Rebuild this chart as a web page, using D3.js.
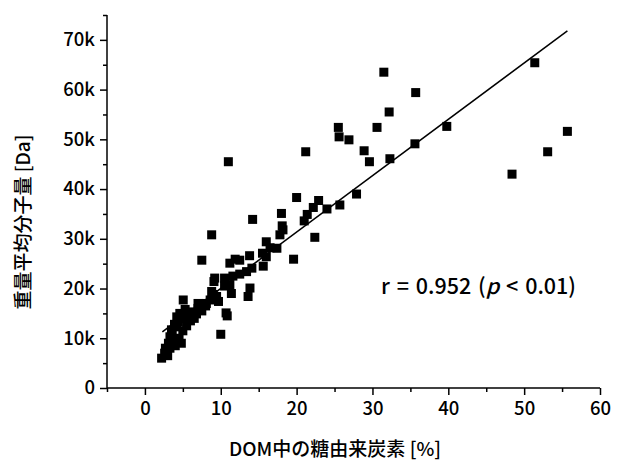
<!DOCTYPE html>
<html><head><meta charset="utf-8">
<script src="https://cdn.jsdelivr.net/npm/d3@7"></script>
<style>body{margin:0;background:#fff}svg{display:block}text{font-family:"Noto Sans CJK JP","Noto Sans",sans-serif;fill:#000}</style>
</head><body><svg id="c" width="636" height="465"></svg>
<script>
// DOM中の糖由来炭素 [%]
const xVals = [31.5,35.7,32.2,25.5,25.6,26.9,30.6,21.2,28.9,29.6,32.3,35.6,39.8,51.4,55.7,53.1,48.4,
  20.0,22.9,22.2,24.0,25.7,27.9,21.4,18.0,21.0,11.0,14.2,18.1,18.2,17.8,8.8,22.4,16.0,16.5,17.4,15.5,16.0,13.8,19.6,
  11.9,12.5,11.2,7.5,15.6,14.1,13.4,12.5,11.6,9.2,10.5,9.1,13.85,13.6,5.05,7.0,8.8,9.45,11.4,10.7,10.85,10.0,10.5,11.2,
  8.6,9.7,2.2,2.6,3.3,3.1,3.7,3.3,3.5,4.2,4.4,4.2,5.05,5.7,6.4,7.0,3.0,4.0,4.5,5.0,5.5,6.0,4.8,6.5,7.5,8.0,8.1,9.0,
  2.7,3.6,3.9,4.6,5.3,6.8];
// 重量平均分子量 [k Da]
const yVals = [63.5,59.4,55.5,52.4,50.5,49.9,52.4,47.5,47.7,45.5,46.1,49.1,52.6,65.4,51.6,47.5,43.0,
  38.3,37.7,36.3,36.0,36.8,39.0,34.9,35.1,33.6,45.5,33.9,32.6,31.8,30.8,30.8,30.3,29.4,28.2,28.1,27.1,26.4,26.6,25.9,
  25.9,25.7,25.1,25.7,24.5,24.1,23.4,22.9,22.5,22.1,22.1,21.4,20.1,18.4,17.7,17.0,19.4,18.4,19.0,15.1,14.5,10.8,20.5,20.8,
  17.7,17.4,6.0,7.0,8.0,9.0,9.7,10.3,11.7,12.3,13.3,14.3,14.0,14.7,15.3,16.0,6.5,8.5,10.0,11.5,12.5,13.5,9.0,14.0,15.5,16.5,17.0,18.8,
  8.0,11.0,12.8,15.0,15.8,14.9];
// regression line endpoints
const fitX = [2.3, 55.7];
const fitY = [11.3, 71.8];
const xTicks = [0,10,20,30,40,50,60];
const xMinor = [-5,5,15,25,35,45,55];
const yTicks = [0,10,20,30,40,50,60,70];
const yMinor = [5,15,25,35,45,55,65,75];
const xLabel = "DOM中の糖由来炭素 [%]";
const yLabel = "重量平均分子量 [Da]";

const svg = d3.select("#c");
const x = d3.scaleLinear().domain([-5,60]).range([107,600]);
const y = d3.scaleLinear().domain([0,75]).range([388,15]);

const g = svg.append("g");
g.append("line").attr("x1",107).attr("x2",600).attr("y1",388).attr("y2",388).attr("stroke","#000").attr("stroke-width",1.5);
g.append("line").attr("x1",107).attr("x2",107).attr("y1",388).attr("y2",15).attr("stroke","#000").attr("stroke-width",1.5);

const xa = svg.append("g").attr("transform","translate(0,388)")
  .call(d3.axisBottom(x).tickValues(xTicks).tickSize(7).tickPadding(7).tickFormat(d3.format("d")));
const xm = svg.append("g").attr("transform","translate(0,388)")
  .call(d3.axisBottom(x).tickValues(xMinor).tickSize(4).tickFormat(""));
const ya = svg.append("g").attr("transform","translate(107,0)")
  .call(d3.axisLeft(y).tickValues(yTicks).tickSize(7).tickPadding(5).tickFormat(d=>d===0?"0":d+"k"));
const ym = svg.append("g").attr("transform","translate(107,0)")
  .call(d3.axisLeft(y).tickValues(yMinor).tickSize(4).tickFormat(""));
[xa,xm,ya,ym].forEach(a=>{
  a.select(".domain").remove();
  a.selectAll("line").attr("stroke","#000").attr("stroke-width",1.5);
  a.selectAll("text").attr("font-size",18.5).attr("font-weight",500).attr("font-family",'"Noto Sans CJK JP","Noto Sans",sans-serif').attr("fill","#000");
});

const pts = xVals.map((v,i)=>[v,yVals[i]]);
const s = 9;
svg.append("g").selectAll("rect").data(pts).join("rect")
  .attr("x",d=>x(d[0])-s/2).attr("y",d=>y(d[1])-s/2)
  .attr("width",s).attr("height",s).attr("fill","#000");

svg.append("path").datum(fitX.map((v,i)=>[v,fitY[i]]))
  .attr("d",d3.line().x(d=>x(d[0])).y(d=>y(d[1])))
  .attr("stroke","#000").attr("stroke-width",1.5).attr("fill","none");

const t = svg.append("text").attr("x",381).attr("y",294).attr("font-size",21.5).attr("font-weight",500).attr("word-spacing",2);
t.append("tspan").text("r = 0.952 (");
t.append("tspan").attr("font-style","italic").text("p");
t.append("tspan").text(" < 0.01)");

svg.append("text").attr("x",335).attr("y",456).attr("text-anchor","middle").attr("font-size",19).attr("font-weight",500).text(xLabel);
svg.append("text").attr("transform","translate(30,222) rotate(-90)").attr("text-anchor","middle").attr("font-size",19).attr("font-weight",500).text(yLabel);
</script></body></html>
